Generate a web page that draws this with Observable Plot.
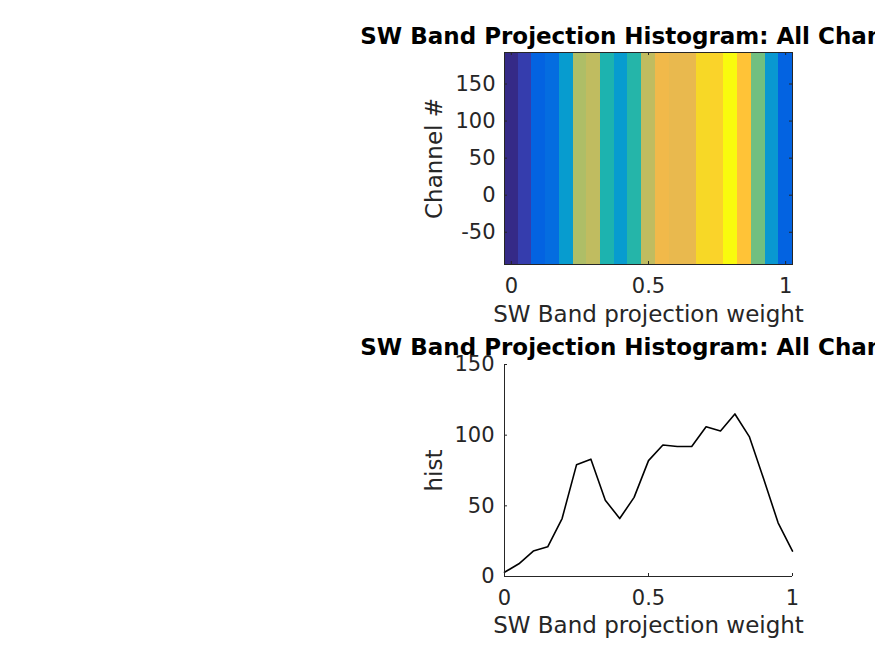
<!DOCTYPE html>
<html>
<head>
<meta charset="utf-8">
<script src="https://cdn.jsdelivr.net/npm/d3@7"></script>
<script src="https://cdn.jsdelivr.net/npm/@observablehq/plot@0.6"></script>
<style>
  html, body { margin: 0; padding: 0; background: #ffffff; }
  #chart { width: 875px; height: 656px; overflow: hidden; position: relative; }
  #chart svg { display: block; }
</style>
</head>
<body>
<div id="chart"></div>
<script>
// ---------- data ----------
const weights = [0, 0.05, 0.1, 0.15, 0.2, 0.25, 0.3, 0.35, 0.4, 0.45, 0.5,
                 0.55, 0.6, 0.65, 0.7, 0.75, 0.8, 0.85, 0.9, 0.95, 1];
const hist = [3, 9, 18, 21, 41, 79, 83, 54, 41, 56, 82,
              93, 92, 92, 106, 103, 115, 99, 69, 38, 18];
const channelRange = [-93.5, 192.5];
const histRange = [0, 150];

const xTicks = [0, 0.5, 1];
const xTickLabels = ["0", "0.5", "1"];
const channelTicks = [-50, 0, 50, 100, 150];
const channelTickLabels = ["-50", "0", "50", "100", "150"];
const histTicks = [0, 50, 100, 150];
const histTickLabels = ["0", "50", "100", "150"];

const titleText = "SW Band Projection Histogram: All Channels";
const xLabelText = "SW Band projection weight";
const yLabelTop = "Channel #";
const yLabelBottom = "hist";

// MATLAB parula colormap (64 entries)
const parula = [
  [0.2081,0.1663,0.5292],[0.2116,0.1898,0.5777],[0.2123,0.2138,0.6270],[0.2081,0.2386,0.6771],
  [0.1959,0.2645,0.7279],[0.1707,0.2919,0.7792],[0.1253,0.3242,0.8303],[0.0591,0.3598,0.8683],
  [0.0117,0.3875,0.8820],[0.0060,0.4086,0.8828],[0.0165,0.4266,0.8786],[0.0329,0.4430,0.8720],
  [0.0498,0.4586,0.8641],[0.0629,0.4737,0.8554],[0.0723,0.4887,0.8467],[0.0779,0.5040,0.8384],
  [0.0793,0.5200,0.8312],[0.0749,0.5375,0.8263],[0.0641,0.5570,0.8240],[0.0488,0.5772,0.8228],
  [0.0343,0.5966,0.8199],[0.0265,0.6137,0.8135],[0.0239,0.6287,0.8038],[0.0231,0.6418,0.7913],
  [0.0228,0.6535,0.7768],[0.0267,0.6642,0.7607],[0.0384,0.6743,0.7436],[0.0590,0.6838,0.7254],
  [0.0843,0.6928,0.7062],[0.1133,0.7015,0.6859],[0.1453,0.7098,0.6646],[0.1801,0.7177,0.6424],
  [0.2178,0.7250,0.6193],[0.2586,0.7317,0.5954],[0.3022,0.7376,0.5712],[0.3482,0.7424,0.5473],
  [0.3953,0.7459,0.5244],[0.4420,0.7481,0.5033],[0.4871,0.7491,0.4840],[0.5300,0.7491,0.4661],
  [0.5709,0.7485,0.4494],[0.6099,0.7473,0.4337],[0.6473,0.7456,0.4188],[0.6834,0.7435,0.4044],
  [0.7184,0.7411,0.3905],[0.7525,0.7384,0.3768],[0.7858,0.7356,0.3633],[0.8185,0.7327,0.3498],
  [0.8507,0.7299,0.3360],[0.8824,0.7274,0.3217],[0.9139,0.7258,0.3063],[0.9450,0.7261,0.2886],
  [0.9739,0.7314,0.2666],[0.9938,0.7455,0.2403],[0.9990,0.7653,0.2164],[0.9955,0.7861,0.1967],
  [0.9880,0.8066,0.1794],[0.9789,0.8271,0.1633],[0.9697,0.8481,0.1475],[0.9626,0.8705,0.1309],
  [0.9589,0.8949,0.1132],[0.9598,0.9218,0.0948],[0.9661,0.9514,0.0755],[0.9763,0.9831,0.0538]
].map(([r, g, b]) => d3.rgb(r * 255, g * 255, b * 255).formatHex());

// ---------- derived ----------
const binWidth = weights[1] - weights[0];
const cells = weights.map((w, i) => ({x1: w - binWidth / 2, x2: w + binWidth / 2, v: hist[i]}));
const points = weights.map((w, i) => ({w, h: hist[i]}));
const hMin = d3.min(hist), hMax = d3.max(hist);
const thresholds = d3.range(1, parula.length).map(k => hMin + k * (hMax - hMin) / parula.length);

const W = 875, H = 328;
const axisColor = "#262626";
const font = "DejaVu Sans, Liberation Sans, sans-serif";
const tickLen = 3;
const tickFont = 21, labelFont = 23;

// ---------- top: image ----------
const m1 = {top: 52, bottom: 64, left: 504, right: 83};
const fw = W - m1.left - m1.right;
const fh1 = H - m1.top - m1.bottom;

const topChart = Plot.plot({
  width: W, height: H,
  marginTop: m1.top, marginBottom: m1.bottom, marginLeft: m1.left, marginRight: m1.right,
  style: {fontFamily: font, color: axisColor, background: "white", overflow: "hidden"},
  x: {domain: [weights[0] - binWidth / 2, weights[weights.length - 1] + binWidth / 2]},
  y: {domain: channelRange},
  color: {type: "threshold", domain: thresholds, range: parula},
  marks: [
    Plot.rect(cells, {x1: "x1", x2: "x2", y1: () => channelRange[0], y2: () => channelRange[1], fill: "v", shapeRendering: "crispEdges"}),
    Plot.frame({stroke: axisColor, strokeWidth: 1}),
    Plot.tickX(xTicks, {x: d => d, stroke: axisColor, insetTop: fh1 - tickLen}),
    Plot.tickX(xTicks, {x: d => d, stroke: axisColor, insetBottom: fh1 - tickLen}),
    Plot.tickY(channelTicks, {y: d => d, stroke: axisColor, insetRight: fw - tickLen}),
    Plot.tickY(channelTicks, {y: d => d, stroke: axisColor, insetLeft: fw - tickLen}),
    Plot.axisX({ticks: xTicks, tickSize: 0, tickPadding: 14, fontSize: tickFont, label: null,
                tickFormat: d => xTickLabels[xTicks.indexOf(d)]}),
    Plot.axisY({ticks: channelTicks, tickSize: 0, tickPadding: 9, fontSize: tickFont, label: null,
                tickFormat: d => channelTickLabels[channelTicks.indexOf(d)]}),
    Plot.text([xLabelText], {frameAnchor: "bottom", lineAnchor: "middle", textAnchor: "middle", dy: 50,
                             text: d => d, fontSize: labelFont, fill: axisColor}),
    Plot.text([yLabelTop], {frameAnchor: "left", lineAnchor: "middle", textAnchor: "middle", dx: -70, rotate: -90,
                            text: d => d, fontSize: labelFont, fill: axisColor}),
    Plot.text([titleText], {frameAnchor: "top", lineAnchor: "middle", textAnchor: "middle", dy: -16,
                            text: d => d, fontSize: labelFont, fontWeight: "bold", fill: "black"})
  ]
});

// ---------- bottom: line ----------
const m2 = {top: 36, bottom: 80, left: 504, right: 83};
const fh2 = H - m2.top - m2.bottom;

const bottomChart = Plot.plot({
  width: W, height: H,
  marginTop: m2.top, marginBottom: m2.bottom, marginLeft: m2.left, marginRight: m2.right,
  style: {fontFamily: font, color: axisColor, background: "white", overflow: "hidden"},
  x: {domain: [weights[0], weights[weights.length - 1]]},
  y: {domain: histRange},
  marks: [
    Plot.line(points, {x: "w", y: "h", stroke: "black", strokeWidth: 1.6}),
    Plot.ruleX([weights[0]], {x: d => d, stroke: axisColor}),
    Plot.ruleY([histRange[0]], {y: d => d, stroke: axisColor}),
    Plot.tickX(xTicks, {x: d => d, stroke: axisColor, insetTop: fh2 - tickLen}),
    Plot.tickY(histTicks, {y: d => d, stroke: axisColor, insetRight: fw - tickLen}),
    Plot.axisX({ticks: xTicks, tickSize: 0, tickPadding: 14, fontSize: tickFont, label: null,
                tickFormat: d => xTickLabels[xTicks.indexOf(d)]}),
    Plot.axisY({ticks: histTicks, tickSize: 0, tickPadding: 10, fontSize: tickFont, label: null,
                tickFormat: d => histTickLabels[histTicks.indexOf(d)]}),
    Plot.text([xLabelText], {frameAnchor: "bottom", lineAnchor: "middle", textAnchor: "middle", dy: 49,
                             text: d => d, fontSize: labelFont, fill: axisColor}),
    Plot.text([yLabelBottom], {frameAnchor: "left", lineAnchor: "middle", textAnchor: "middle", dx: -70, rotate: -90,
                               text: d => d, fontSize: labelFont, fill: axisColor}),
    Plot.text([titleText], {frameAnchor: "top", lineAnchor: "middle", textAnchor: "middle", dy: -17,
                            text: d => d, fontSize: labelFont, fontWeight: "bold", fill: "black"})
  ]
});

const chart = document.getElementById("chart");
chart.appendChild(topChart);
chart.appendChild(bottomChart);
</script>
</body>
</html>
